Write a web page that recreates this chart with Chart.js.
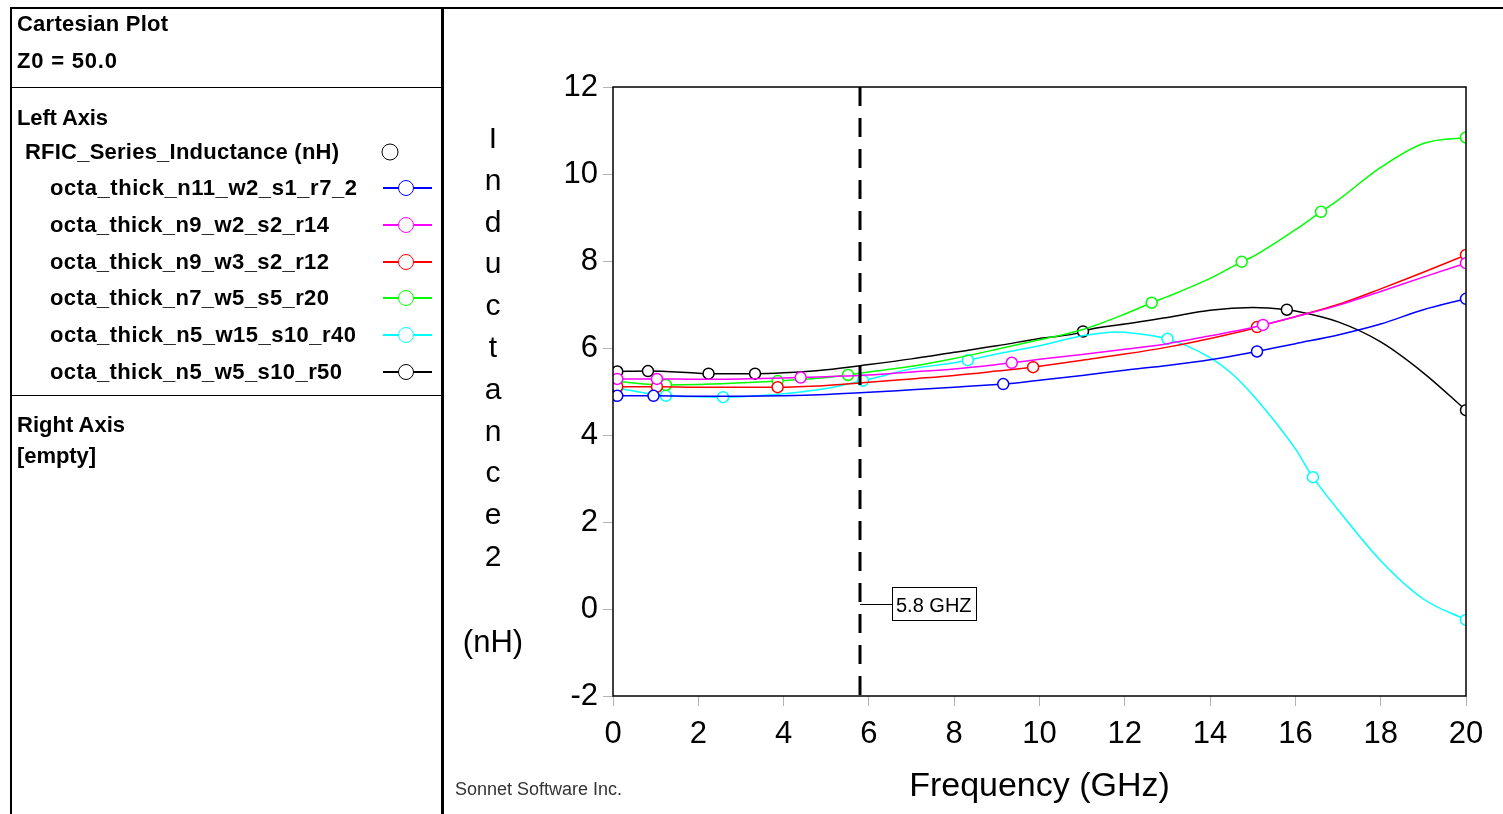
<!DOCTYPE html>
<html><head><meta charset="utf-8">
<script src="https://cdn.jsdelivr.net/npm/chart.js@4.4.0/dist/chart.umd.min.js"></script>
<style>
html,body{margin:0;padding:0;background:#fff;width:1503px;height:814px;overflow:hidden;}
#c{position:absolute;left:0;top:0;}
.ln{position:absolute;background:#000;}
.t{position:absolute;font:bold 22px "Liberation Sans",Arial,sans-serif;color:#000;line-height:22px;white-space:nowrap;transform:translateY(-50%);}
.sw{position:absolute;height:2px;}
.cir{position:absolute;box-sizing:border-box;width:16px;height:16px;border:1.5px solid;border-radius:50%;background:#fff;transform:translate(-50%,-50%);}
</style></head>
<body>
<canvas id="c" width="1503" height="814"></canvas>
<div id="panel"></div>
<script>
// ---------------- data ----------------
const seriesNames = ['octa_thick_n11_w2_s1_r7_2','octa_thick_n9_w2_s2_r14','octa_thick_n9_w3_s2_r12','octa_thick_n7_w5_s5_r20','octa_thick_n5_w15_s10_r40','octa_thick_n5_w5_s10_r50'];
const groupName = 'RFIC_Series_Inductance (nH)';

const freqBlue = [0.1,0.95,2,3,4,5,6,7,8,9,9.15,10,11,12,13,14,15,15.1,16,17,18,19,20];
const valBlue  = [4.90,4.90,4.89,4.89,4.90,4.93,4.98,5.04,5.10,5.16,5.17,5.26,5.37,5.49,5.60,5.73,5.90,5.92,6.10,6.30,6.55,6.88,7.13];
const mkBlue   = [0.1,0.95,9.15,15.1,20];

const freqMagenta = [0.1,1.03,2,3,4,4.4,5,6,7,8,9,9.35,10,11,12,13,14,15,15.24,16,17,18,19,20];
const valMagenta  = [5.29,5.29,5.28,5.29,5.31,5.32,5.34,5.38,5.45,5.52,5.62,5.66,5.74,5.85,5.97,6.10,6.28,6.47,6.53,6.72,6.98,7.30,7.63,7.95];
const mkMagenta   = [0.1,1.03,4.4,9.35,15.24,20];

const freqRed = [0.1,1.03,2,3,3.86,5,6,7,8,9,9.85,10,11,12,13,14,15,15.1,16,17,18,19,20];
const valRed  = [5.11,5.11,5.10,5.10,5.10,5.14,5.21,5.29,5.37,5.47,5.56,5.58,5.72,5.86,6.02,6.22,6.45,6.48,6.72,7.00,7.36,7.74,8.14];
const mkRed   = [0.1,1.03,3.86,9.85,15.1,20];

const freqGreen = [0.1,1.24,2,3,3.86,5,5.51,6,7,8,9,10,11,12,12.63,13,14,14.74,15,16,16.6,17,18,19,20];
const valGreen  = [5.23,5.15,5.16,5.20,5.24,5.32,5.38,5.45,5.58,5.76,5.97,6.19,6.42,6.78,7.04,7.18,7.60,7.98,8.10,8.72,9.13,9.40,10.15,10.70,10.84];
const mkGreen   = [0.1,1.24,3.86,5.51,12.63,14.74,16.6,20];

const freqCyan = [0.1,1.24,2,2.58,3,4,5,5.86,6,7,8,8.32,9,10,11,11.8,12,13,14,14.5,15,16,16.41,17,18,19,20];
const valCyan  = [5.08,4.90,4.88,4.87,4.88,4.95,5.07,5.25,5.28,5.52,5.66,5.72,5.86,6.05,6.28,6.37,6.36,6.21,5.78,5.42,4.92,3.68,3.03,2.28,1.11,0.23,-0.25];
const mkCyan   = [0.1,1.24,2.58,5.86,8.32,13,16.41,20];

const freqBlack = [0.1,0.82,2,2.24,3,3.33,4,5,6,7,8,9,10,11,11.02,12,13,14,15,15.8,16,17,18,19,20];
const valBlack  = [5.46,5.47,5.42,5.41,5.41,5.41,5.43,5.50,5.62,5.75,5.90,6.05,6.22,6.37,6.38,6.55,6.70,6.87,6.93,6.88,6.85,6.60,6.14,5.43,4.57];
const mkBlack   = [0.1,0.82,2.24,3.33,11.02,15.8,20];

const xTicks = [0,2,4,6,8,10,12,14,16,18,20];
const yTicks = [-2,0,2,4,6,8,10,12];
const markerFreq = 5.8;
const markerLabel = '5.8 GHZ';
const xTitle = 'Frequency (GHz)';
const yTitleLetters = ['I','n','d','u','c','t','a','n','c','e','2'];
const yUnit = '(nH)';
const credit = 'Sonnet Software Inc.';

// ---------------- styles ----------------
const seriesColors = ['#0000ff','#ff00ff','#ff0000','#00ff00','#00ffff','#000000'];
const seriesF = [freqBlue,freqMagenta,freqRed,freqGreen,freqCyan,freqBlack];
const seriesV = [valBlue,valMagenta,valRed,valGreen,valCyan,valBlack];
const seriesM = [mkBlue,mkMagenta,mkRed,mkGreen,mkCyan,mkBlack];
const FONT = '"Liberation Sans", Arial, sans-serif';

// ---------------- left panel ----------------
const panel = document.getElementById('panel');
function line(x,y,w,h){const d=document.createElement('div');d.className='ln';d.style.left=x+'px';d.style.top=y+'px';d.style.width=w+'px';d.style.height=h+'px';panel.appendChild(d);}
line(10,7,1493,1.5);
line(10,7,1.5,807);
line(441,7,2.5,807);
line(10,86.5,432,1.5);
line(10,394.5,432,1.5);
function txt(s,x,y,w){const d=document.createElement('div');d.className='t';d.textContent=s;d.style.left=x+'px';d.style.top=y+'px';d.dataset.w=w;panel.appendChild(d);return d;}
txt('Cartesian Plot',17,24,151);
txt('Z0 = 50.0',17,61,100);
txt('Left Axis',17,118,91);
txt(groupName,25,152,314);
const rowW=[307,279,279,279,306,292];
seriesNames.forEach((n,i)=>{
  const y=Math.round(188+36.8*i);
  txt(n,50,y,rowW[i]);
  const s=document.createElement('div');s.className='sw';s.style.left='383px';s.style.width='49px';s.style.top=(y-1)+'px';s.style.background=seriesColors[i];panel.appendChild(s);
  const c=document.createElement('div');c.className='cir';c.style.left='406px';c.style.top=y+'px';c.style.borderColor=seriesColors[i];panel.appendChild(c);
});
{const c=document.createElement('div');c.className='cir';c.style.left='390px';c.style.top='152px';c.style.borderColor='#000';c.style.width='17px';c.style.height='17px';panel.appendChild(c);}
txt('Right Axis',17,425,108);
txt('[empty]',17,456,79);
document.querySelectorAll('.t').forEach(el=>{
  el.style.letterSpacing='0px';
  const w=el.getBoundingClientRect().width;
  const n=el.textContent.length;
  const target=parseFloat(el.dataset.w);
  el.style.letterSpacing=((target-w)/Math.max(1,n-1))+'px';
});

// ---------------- chart ----------------
const datasets = seriesNames.map((name,i)=>({
  label:name,
  data: seriesF[i].map((f,j)=>({x:f,y:seriesV[i][j]})),
  borderColor: seriesColors[i],
  borderWidth: 1.5,
  cubicInterpolationMode: 'monotone',
  fill: false,
  pointStyle: 'circle',
  pointRadius: ctx => (ctx.raw && seriesM[i].includes(ctx.raw.x)) ? 5.5 : 0,
  pointHoverRadius: 0,
  pointBackgroundColor: '#ffffff',
  pointBorderColor: seriesColors[i],
  pointBorderWidth: 1.5
}));

const deco = {
  id:'deco',
  afterDatasetsDraw(chart){
    const ctx=chart.ctx, xs=chart.scales.x, ys=chart.scales.y, a=chart.chartArea;
    const px=Math.round(xs.getPixelForValue(markerFreq));
    ctx.save();
    ctx.strokeStyle='#000'; ctx.lineWidth=3; ctx.setLineDash([19,12]);
    ctx.beginPath(); ctx.moveTo(px,a.top); ctx.lineTo(px,a.bottom); ctx.stroke();
    ctx.setLineDash([]); ctx.lineWidth=1;
    const ly=Math.round(ys.getPixelForValue(0))-5;
    ctx.beginPath(); ctx.moveTo(px,ly+0.5); ctx.lineTo(px+32,ly+0.5); ctx.stroke();
    ctx.font='20px '+FONT;
    const tw=ctx.measureText(markerLabel).width;
    const bx=px+32, bw=Math.round(tw+8), bh=33, by=ly-17;
    ctx.fillStyle='#fff'; ctx.fillRect(bx,by,bw,bh);
    ctx.strokeRect(bx+0.5,by+0.5,bw,bh);
    ctx.fillStyle='#000'; ctx.textAlign='left'; ctx.textBaseline='middle';
    ctx.fillText(markerLabel,bx+4,ly+2);
    // plot frame
    ctx.lineWidth=1.5; ctx.strokeStyle='#000';
    ctx.strokeRect(a.left,a.top,a.right-a.left,a.bottom-a.top);
    ctx.restore();
  },
  afterDraw(chart){
    const ctx=chart.ctx;
    ctx.save();
    ctx.fillStyle='#000'; ctx.textAlign='center'; ctx.textBaseline='alphabetic';
    ctx.font='30px '+FONT;
    yTitleLetters.forEach((ch,i)=>ctx.fillText(ch,493,148+i*41.8));
    ctx.font='31px '+FONT;
    ctx.fillText(yUnit,493,652);
    ctx.textAlign='left'; ctx.font='18px '+FONT; ctx.fillStyle='#333';
    ctx.fillText(credit,455,795);
    ctx.restore();
  }
};

new Chart(document.getElementById('c'), {
  type:'line',
  data:{datasets},
  options:{
    responsive:false, animation:false, devicePixelRatio:1,
    layout:{padding:{left:450,right:37,top:87,bottom:0}},
    plugins:{legend:{display:false}, tooltip:{enabled:false}},
    events:[],
    scales:{
      x:{type:'linear', min:0, max:20,
        afterBuildTicks:s=>{s.ticks=xTicks.map(v=>({value:v}));},
        afterFit:s=>{s.height=118;},
        ticks:{font:{family:FONT,size:31}, color:'#000', padding:10, maxRotation:0, autoSkip:false},
        grid:{drawOnChartArea:false, drawTicks:true, tickLength:10, tickColor:'#b4b4b4', tickWidth:1},
        border:{display:false},
        title:{display:true, text:xTitle, color:'#000', font:{family:FONT,size:34}, padding:{top:0,bottom:7}}
      },
      y:{type:'linear', min:-2, max:12,
        afterBuildTicks:s=>{s.ticks=yTicks.map(v=>({value:v}));},
        afterFit:s=>{s.width=163;},
        ticks:{font:{family:FONT,size:31}, color:'#000', padding:5, autoSkip:false},
        grid:{drawOnChartArea:false, drawTicks:true, tickLength:10, tickColor:'#b4b4b4', tickWidth:1},
        border:{display:false}
      }
    }
  },
  plugins:[deco]
});
</script>
</body></html>
